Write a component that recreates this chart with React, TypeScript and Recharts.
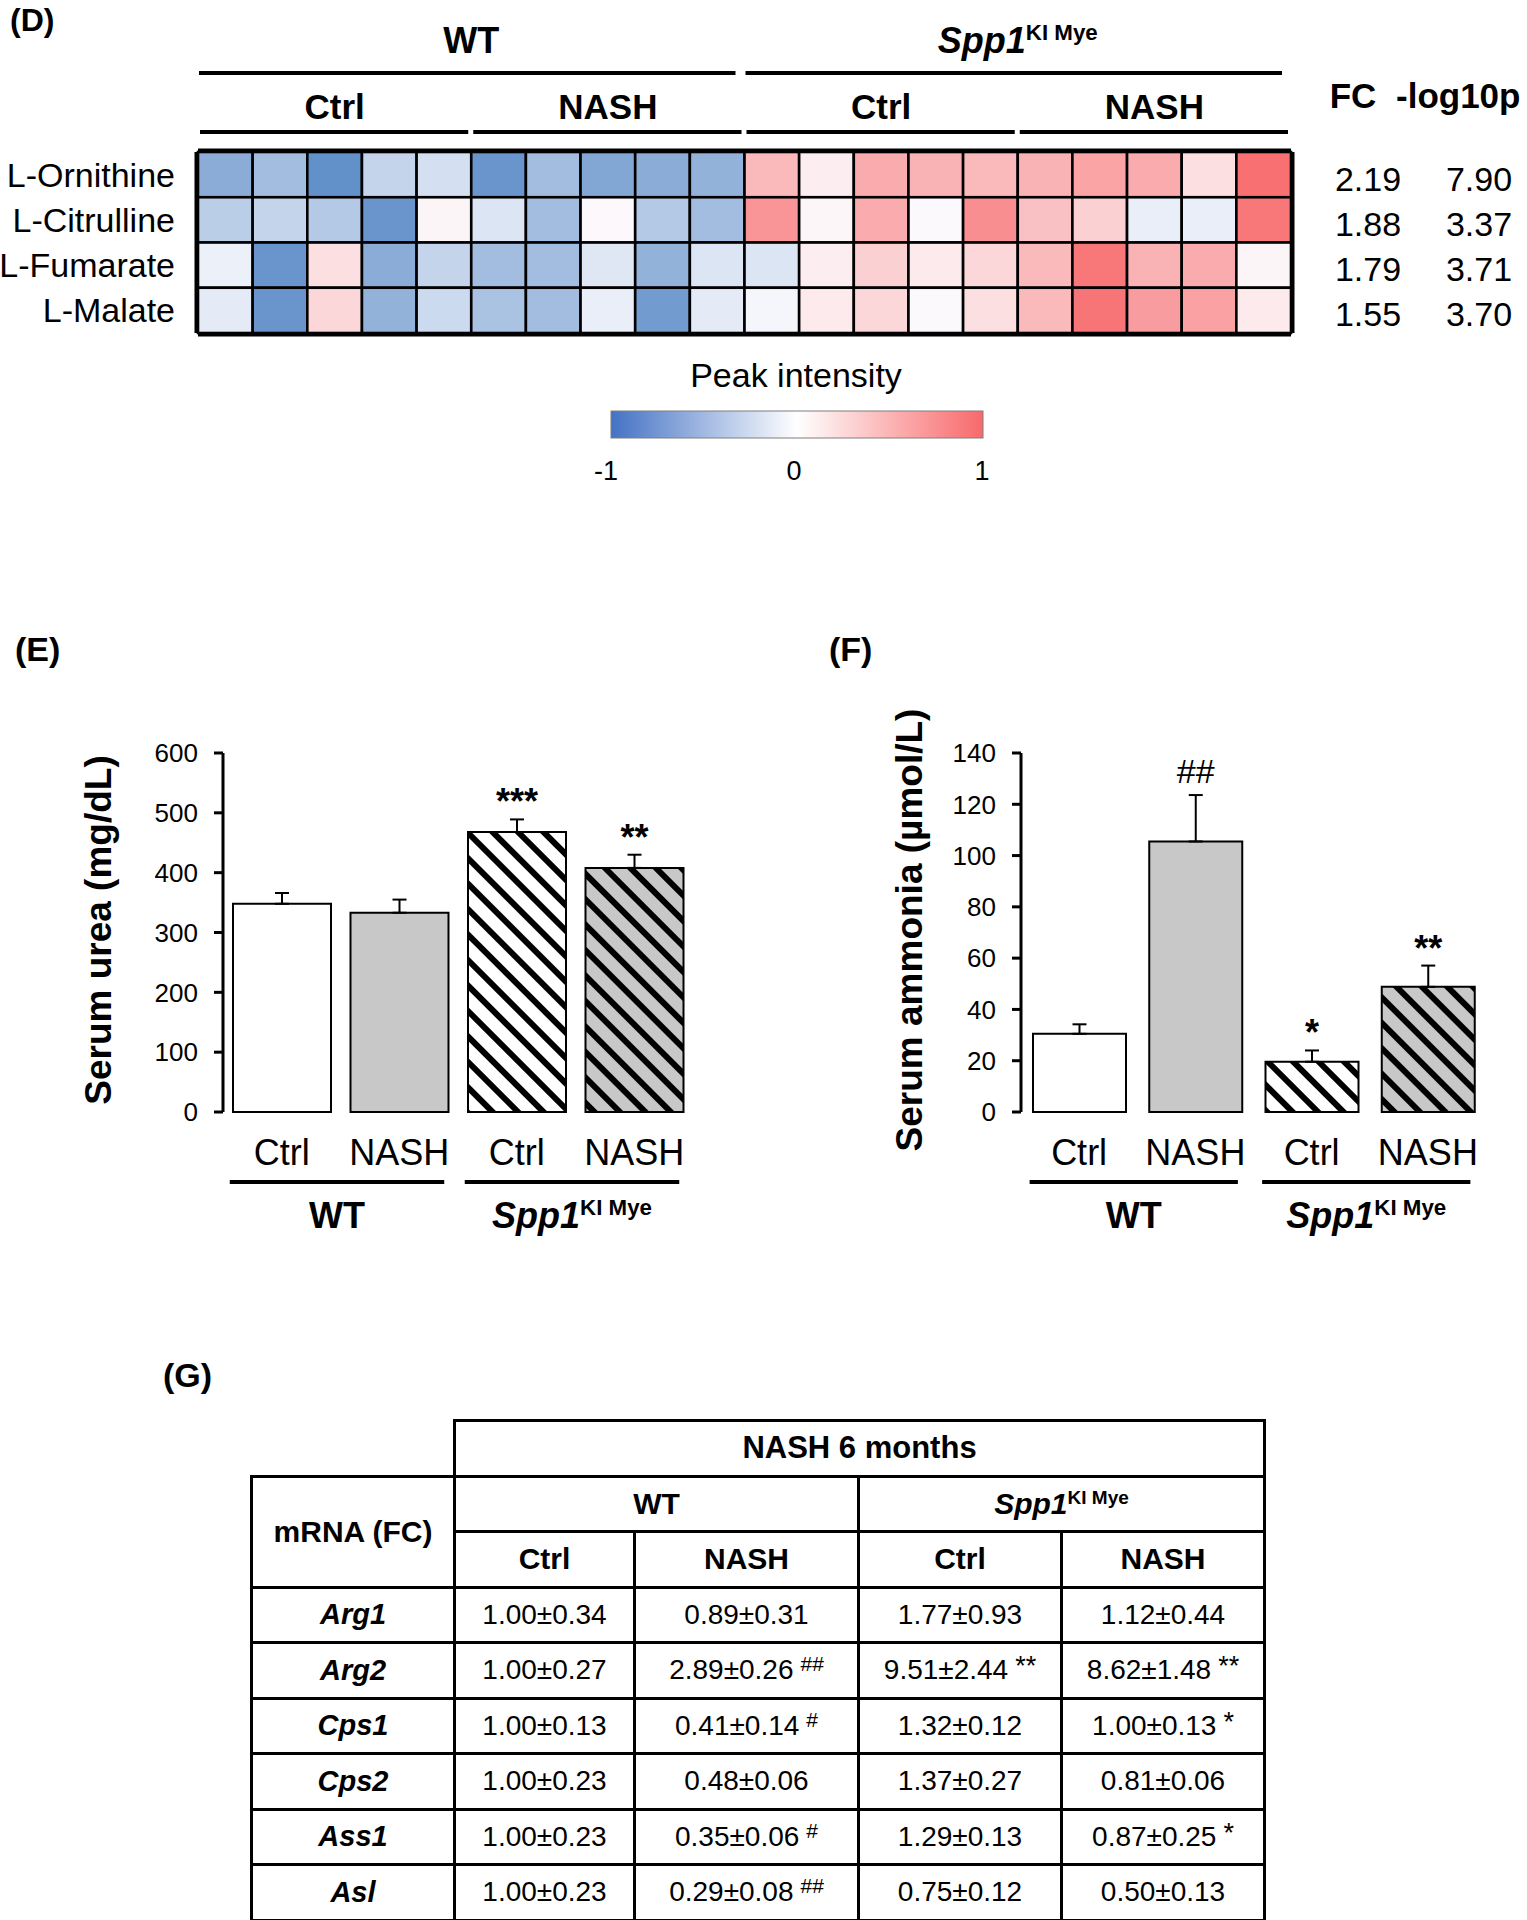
import React from "react";
import {
  BarChart,
  Bar,
  XAxis,
  YAxis,
  Cell,
  ErrorBar,
  LabelList,
  ScatterChart,
  Scatter,
  ReferenceLine,
} from "recharts";

const FONT = '"Liberation Sans", Arial, Helvetica, sans-serif';

// (D) metabolite heatmap, scaled peak intensity per mouse (5 per group)
const metabolites = ["L-Ornithine", "L-Citrulline", "L-Fumarate", "L-Malate"];
const ornithine = [-0.7, -0.55, -0.95, -0.35, -0.25, -0.9, -0.55, -0.75, -0.7, -0.65, 0.45, 0.1, 0.55, 0.5, 0.45, 0.5, 0.6, 0.55, 0.2, 0.95];
const citrulline = [-0.4, -0.35, -0.45, -0.9, 0.05, -0.2, -0.55, 0.03, -0.45, -0.55, 0.7, 0.04, 0.55, 0.02, 0.75, 0.4, 0.3, -0.12, -0.12, 0.9];
const fumarate = [-0.1, -0.9, 0.2, -0.7, -0.35, -0.55, -0.55, -0.18, -0.65, -0.2, -0.2, 0.1, 0.3, 0.12, 0.25, 0.45, 0.9, 0.5, 0.55, 0.05];
const malate = [-0.15, -0.9, 0.25, -0.65, -0.3, -0.5, -0.55, -0.12, -0.85, -0.15, -0.05, 0.12, 0.25, 0.02, 0.2, 0.45, 0.92, 0.65, 0.62, 0.12];
const foldChange = ["2.19", "1.88", "1.79", "1.55"];
const log10p = ["7.90", "3.37", "3.71", "3.70"];
const colorbarTicks = [-1, 0, 1];

const genotypes = ["WT", "Spp1"];
const diets = ["Ctrl", "NASH"];

// (E) serum urea, mg/dL
const barLabels = ["Ctrl", "NASH", "Ctrl", "NASH"];
const urea = [348, 333, 468, 408];
const ureaSem = [18, 22, 21, 22];
const ureaSig = ["", "", "***", "**"];
const ureaTicks = [0, 100, 200, 300, 400, 500, 600];

// (F) serum ammonia, umol/L
const ammonia = [30.5, 105.5, 19.6, 48.8];
const ammoniaSem = [3.7, 18.1, 4.4, 8.3];
const ammoniaSig = ["", "##", "*", "**"];
const ammoniaTicks = [0, 20, 40, 60, 80, 100, 120, 140];

// (G) mRNA fold change table
const genes = ["Arg1", "Arg2", "Cps1", "Cps2", "Ass1", "Asl"];
const wtCtrl = ["1.00±0.34", "1.00±0.27", "1.00±0.13", "1.00±0.23", "1.00±0.23", "1.00±0.23"];
const wtNash = ["0.89±0.31", "2.89±0.26", "0.41±0.14", "0.48±0.06", "0.35±0.06", "0.29±0.08"];
const wtNashMark = ["", "##", "#", "", "#", "##"];
const kiCtrl = ["1.77±0.93", "9.51±2.44", "1.32±0.12", "1.37±0.27", "1.29±0.13", "0.75±0.12"];
const kiCtrlMark = ["", "**", "", "", "", ""];
const kiNash = ["1.12±0.44", "8.62±1.48", "1.00±0.13", "0.81±0.06", "0.87±0.25", "0.50±0.13"];
const kiNashMark = ["", "**", "*", "", "*", ""];

const BAR_FILLS = ["#ffffff", "#c8c8c8", "url(#stripeWhite)", "url(#stripeGray)"];

// layout
const HM = { left: 198, right: 1291, top: 152, bottom: 333 };
const CW = (HM.right - HM.left) / 20;
const RH = (HM.bottom - HM.top) / 4;
const PLOT_TOP = 753;
const PLOT_BOTTOM = 1112;
const PE = { left: 0, top: 700, width: 720, height: 520, plotL: 223, plotR: 693, barSize: 98 };
const PF = { left: 800, top: 700, width: 720, height: 520, plotL: 1021, plotR: 1486, barSize: 93 };

const BLUE = [90, 138, 198];
const WHITE = [252, 252, 255];
const RED = [248, 105, 107];

function heatColor(v: number) {
  const t = Math.min(1, Math.abs(v));
  const end = v < 0 ? BLUE : RED;
  const c = WHITE.map((w, i) => Math.round(w + (end[i] - w) * t));
  return `rgb(${c[0]},${c[1]},${c[2]})`;
}

const heatData = [ornithine, citrulline, fumarate, malate].flatMap((row, r) =>
  row.map((v, c) => ({ col: c + 0.5, row: r + 0.5, v }))
);

function GenoLabel({ x, y, size }: { x: number; y: number; size: number }) {
  return (
    <text x={x} y={y} textAnchor="middle" fontFamily={FONT} fontWeight="bold" fontSize={size}>
      <tspan fontStyle="italic">Spp1</tspan>
      <tspan fontSize={size * 0.62} dy={-size * 0.36}>KI Mye</tspan>
    </text>
  );
}

function Heatmap() {
  return (
    <div style={{ position: "absolute", left: 0, top: 0 }}>
      <ScatterChart
        width={1527}
        height={400}
        margin={{ top: HM.top, left: HM.left, right: 1527 - HM.right, bottom: 400 - HM.bottom }}
      >
        <XAxis type="number" dataKey="col" domain={[0, 20]} hide height={0} />
        <YAxis type="number" dataKey="row" domain={[0, 4]} reversed hide width={0} />
        <Scatter
          data={heatData}
          isAnimationActive={false}
          shape={(p: any) => (
            <rect
              x={p.cx - CW / 2}
              y={p.cy - RH / 2}
              width={CW}
              height={RH}
              fill={heatColor(p.payload.v)}
              stroke="#000"
              strokeWidth={2.6}
            />
          )}
        />
        {[0, 5, 10, 15, 20].map((x) => (
          <ReferenceLine key={`x${x}`} x={x} stroke="#000" strokeWidth={7} />
        ))}
        {[0, 4].map((y) => (
          <ReferenceLine key={`y${y}`} y={y} stroke="#000" strokeWidth={7} />
        ))}
      </ScatterChart>
    </div>
  );
}

const sigLabel = (sems: number[], pxPerUnit: number) => (p: any) => {
  const s = p.value;
  if (!s) return null;
  const vb = p.viewBox && p.x === undefined ? p.viewBox : p;
  const errTop = vb.y - sems[p.index] * pxPerUnit;
  const isHash = String(s).includes("#");
  return (
    <text
      x={vb.x + vb.width / 2}
      y={isHash ? errTop - 12 : errTop - 5}
      textAnchor="middle"
      fontFamily={FONT}
      fontWeight={isHash ? "normal" : "bold"}
      fontSize={isHash ? 34 : 36}
    >
      {s}
    </text>
  );
};

function BarPanel({ geo, values, sems, sigs, ticks }: any) {
  const max = ticks[ticks.length - 1];
  const data = values.map((v: number, i: number) => ({ key: i, mean: v, err: [0, sems[i]], sig: sigs[i] }));
  const pxPerUnit = (PLOT_BOTTOM - PLOT_TOP) / max;
  return (
    <div style={{ position: "absolute", left: geo.left, top: geo.top }}>
      <BarChart
        width={geo.width}
        height={geo.height}
        data={data}
        margin={{
          top: PLOT_TOP - geo.top,
          right: geo.left + geo.width - geo.plotR,
          bottom: geo.top + geo.height - PLOT_BOTTOM - 60,
          left: 0,
        }}
      >
        <XAxis
          dataKey="key"
          height={60}
          axisLine={false}
          tickLine={false}
          tickSize={0}
          tickMargin={0}
          interval={0}
          tick={(p: any) => (
            <text x={p.x} y={p.y + 53} textAnchor="middle" fontFamily={FONT} fontSize={36} fill="#000">
              {barLabels[p.payload.value]}
            </text>
          )}
        />
        <YAxis
          width={geo.plotL - geo.left}
          domain={[0, max]}
          ticks={ticks}
          interval={0}
          axisLine={{ stroke: "#000", strokeWidth: 3 }}
          tickLine={{ stroke: "#000", strokeWidth: 3 }}
          tickSize={9}
          tickMargin={16}
          tick={{ fontSize: 26, fill: "#000", fontFamily: FONT }}
        />
        <Bar dataKey="mean" barSize={geo.barSize} stroke="#000" strokeWidth={2} isAnimationActive={false}>
          {data.map((d: any, i: number) => (
            <Cell key={i} fill={BAR_FILLS[i]} />
          ))}
          <ErrorBar dataKey="err" direction="y" width={7} stroke="#000" strokeWidth={2} isAnimationActive={false} />
          <LabelList dataKey="sig" content={sigLabel(sems, pxPerUnit)} />
        </Bar>
      </BarChart>
    </div>
  );
}

function barPanelDecor(geo: any, title: string, titleX: number, letter: string, letterX: number) {
  const band = (geo.plotR - geo.plotL) / 4;
  const barLeft = (i: number) => geo.plotL + band * i + (band - geo.barSize) / 2;
  return (
    <g fontFamily={FONT}>
      <text x={letterX} y={661} fontWeight="bold" fontSize={34}>{letter}</text>
      <text
        transform={`translate(${titleX},930) rotate(-90)`}
        textAnchor="middle"
        dominantBaseline="central"
        fontWeight="bold"
        fontSize={37}
      >
        {title}
      </text>
      {genotypes.map((g, k) => {
        const x1 = barLeft(2 * k) - 3;
        const x2 = barLeft(2 * k + 1) + geo.barSize - 4;
        const cx = (x1 + x2) / 2;
        return (
          <g key={g}>
            <line x1={x1} x2={x2} y1={1182} y2={1182} stroke="#000" strokeWidth={4} />
            {k === 0 ? (
              <text x={cx} y={1228} textAnchor="middle" fontWeight="bold" fontSize={36}>{g}</text>
            ) : (
              <GenoLabel x={cx} y={1228} size={36} />
            )}
          </g>
        );
      })}
    </g>
  );
}

function Overlay() {
  const groupW = CW * 10;
  const subW = CW * 5;
  return (
    <svg width={1527} height={1920} style={{ position: "absolute", left: 0, top: 0, pointerEvents: "none" }}>
      <defs>
        <linearGradient id="peakGrad" x1="0" x2="1" y1="0" y2="0">
          <stop offset="0%" stopColor="#4472c4" />
          <stop offset="50%" stopColor="#ffffff" />
          <stop offset="100%" stopColor="#f8696b" />
        </linearGradient>
      </defs>
      <g fontFamily={FONT} fill="#000">
        <text x={10} y={31} fontWeight="bold" fontSize={32}>(D)</text>
        {genotypes.map((g, i) => {
          const cx = HM.left + groupW * (i + 0.5);
          return (
            <g key={g}>
              {i === 0 ? (
                <text x={cx} y={53} textAnchor="middle" fontWeight="bold" fontSize={36}>{g}</text>
              ) : (
                <GenoLabel x={cx} y={53} size={36} />
              )}
              <line
                x1={HM.left + groupW * i + 1}
                x2={HM.left + groupW * (i + 1) - 9}
                y1={73}
                y2={73}
                stroke="#000"
                strokeWidth={4}
              />
            </g>
          );
        })}
        {[0, 1, 2, 3].map((k) => (
          <g key={k}>
            <text x={HM.left + subW * (k + 0.5)} y={119} textAnchor="middle" fontWeight="bold" fontSize={35}>
              {diets[k % 2]}
            </text>
            <line
              x1={HM.left + subW * k + 2}
              x2={HM.left + subW * (k + 1) - 3}
              y1={132}
              y2={132}
              stroke="#000"
              strokeWidth={4}
            />
          </g>
        ))}
        {metabolites.map((m, r) => (
          <text key={m} x={175} y={HM.top + RH * (r + 0.5) + 12} textAnchor="end" fontSize={34}>
            {m}
          </text>
        ))}
        <text x={1353} y={108} textAnchor="middle" fontWeight="bold" fontSize={35}>FC</text>
        <text x={1396} y={108} fontWeight="bold" fontSize={35}>-log10p</text>
        {foldChange.map((v, r) => (
          <text key={`fc${r}`} x={1368} y={HM.top + RH * (r + 0.5) + 16} textAnchor="middle" fontSize={34}>
            {v}
          </text>
        ))}
        {log10p.map((v, r) => (
          <text key={`lp${r}`} x={1479} y={HM.top + RH * (r + 0.5) + 16} textAnchor="middle" fontSize={34}>
            {v}
          </text>
        ))}
        <text x={796} y={387} textAnchor="middle" fontSize={34}>Peak intensity</text>
        <rect x={611} y={411} width={372} height={27} fill="url(#peakGrad)" stroke="#7f7f7f" strokeWidth={1} />
        {colorbarTicks.map((t) => (
          <text key={t} x={606 + ((t + 1) / 2) * 376} y={480} textAnchor="middle" fontSize={27}>
            {t}
          </text>
        ))}
      </g>
      {barPanelDecor(PE, "Serum urea (mg/dL)", 98, "(E)", 15)}
      {barPanelDecor(PF, "Serum ammonia (µmol/L)", 909, "(F)", 829)}
      <text x={163} y={1387} fontFamily={FONT} fontWeight="bold" fontSize={34}>(G)</text>
    </svg>
  );
}

const cell: React.CSSProperties = {
  border: "3px solid #000",
  padding: 0,
  textAlign: "center",
  verticalAlign: "middle",
};

function Mark({ m }: { m: string }) {
  if (!m) return null;
  const star = m.includes("*");
  return (
    <span style={{ fontSize: star ? 27 : 21, position: "relative", top: star ? -4 : -8, marginLeft: 7 }}>{m}</span>
  );
}

function Table() {
  const rowH = 55.5;
  return (
    <table
      style={{
        position: "absolute",
        left: 250,
        top: 1419,
        borderCollapse: "collapse",
        tableLayout: "fixed",
        fontFamily: FONT,
        color: "#000",
      }}
    >
      <colgroup>
        <col style={{ width: 203 }} />
        <col style={{ width: 180 }} />
        <col style={{ width: 224 }} />
        <col style={{ width: 203 }} />
        <col style={{ width: 203 }} />
      </colgroup>
      <tbody>
        <tr style={{ height: rowH }}>
          <td style={{ ...cell, borderTop: "none", borderLeft: "none" }} />
          <td colSpan={4} style={{ ...cell, fontWeight: "bold", fontSize: 31 }}>NASH 6 months</td>
        </tr>
        <tr style={{ height: rowH }}>
          <td rowSpan={2} style={{ ...cell, fontWeight: "bold", fontSize: 30 }}>mRNA (FC)</td>
          <td colSpan={2} style={{ ...cell, fontWeight: "bold", fontSize: 30 }}>WT</td>
          <td colSpan={2} style={{ ...cell, fontWeight: "bold", fontSize: 30 }}>
            <i>Spp1</i>
            <span style={{ fontSize: 19, position: "relative", top: -10 }}>KI Mye</span>
          </td>
        </tr>
        <tr style={{ height: rowH }}>
          {[0, 1, 2, 3].map((k) => (
            <td key={k} style={{ ...cell, fontWeight: "bold", fontSize: 30 }}>{diets[k % 2]}</td>
          ))}
        </tr>
        {genes.map((g, i) => (
          <tr key={g} style={{ height: rowH }}>
            <td style={{ ...cell, fontWeight: "bold", fontStyle: "italic", fontSize: 29 }}>{g}</td>
            <td style={{ ...cell, fontSize: 28 }}>{wtCtrl[i]}</td>
            <td style={{ ...cell, fontSize: 28 }}>
              {wtNash[i]}
              <Mark m={wtNashMark[i]} />
            </td>
            <td style={{ ...cell, fontSize: 28 }}>
              {kiCtrl[i]}
              <Mark m={kiCtrlMark[i]} />
            </td>
            <td style={{ ...cell, fontSize: 28 }}>
              {kiNash[i]}
              <Mark m={kiNashMark[i]} />
            </td>
          </tr>
        ))}
      </tbody>
    </table>
  );
}

export default function App() {
  return (
    <div
      style={{
        position: "absolute",
        left: 0,
        top: 0,
        width: 1527,
        height: 1920,
        background: "#fff",
        overflow: "hidden",
        fontFamily: FONT,
      }}
    >
      <svg width={0} height={0} style={{ position: "absolute" }}>
        <defs>
          <pattern id="stripeWhite" patternUnits="userSpaceOnUse" width={18} height={18} patternTransform="rotate(-45)">
            <rect width={18} height={18} fill="#ffffff" />
            <rect width={6} height={18} fill="#000000" />
          </pattern>
          <pattern id="stripeGray" patternUnits="userSpaceOnUse" width={18} height={18} patternTransform="rotate(-45)">
            <rect width={18} height={18} fill="#c8c8c8" />
            <rect width={6} height={18} fill="#000000" />
          </pattern>
        </defs>
      </svg>
      <Heatmap />
      <BarPanel geo={PE} values={urea} sems={ureaSem} sigs={ureaSig} ticks={ureaTicks} />
      <BarPanel geo={PF} values={ammonia} sems={ammoniaSem} sigs={ammoniaSig} ticks={ammoniaTicks} />
      <Overlay />
      <Table />
    </div>
  );
}
